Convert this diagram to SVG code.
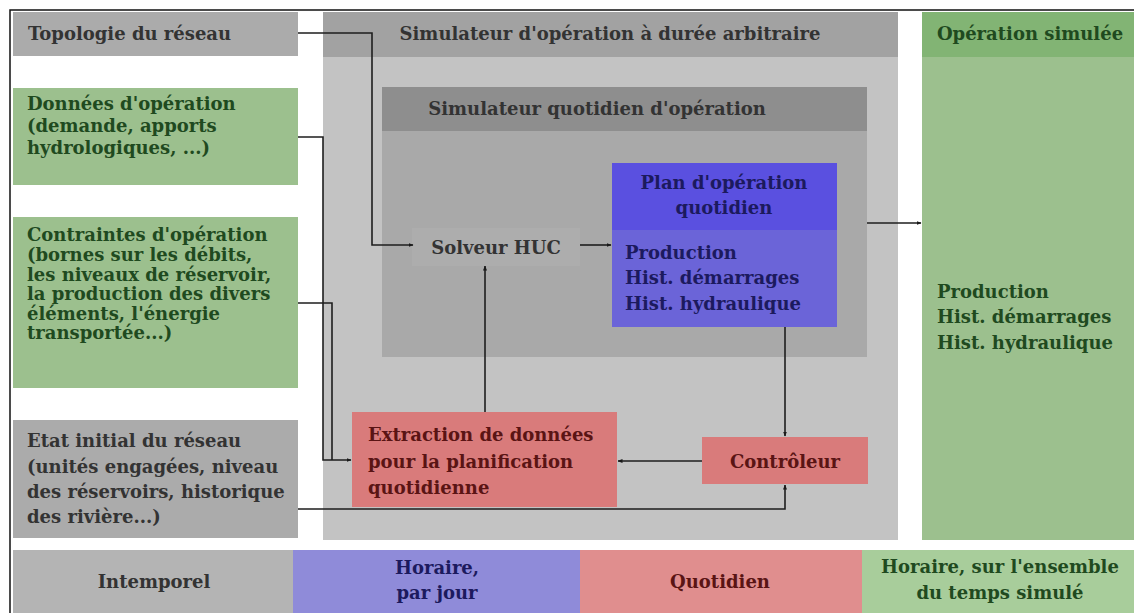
<svg xmlns="http://www.w3.org/2000/svg" width="1134" height="613" viewBox="0 0 1134 613">
<defs>
<marker id="ah" viewBox="0 0 10 10" refX="9" refY="5" markerWidth="5" markerHeight="5" orient="auto-start-reverse" markerUnits="userSpaceOnUse">
<path d="M0,1 L10,5 L0,9 z" fill="#1a1a1a"/>
</marker>
<style>
text{font-family:"DejaVu Serif","Liberation Serif",serif;font-weight:bold;font-size:18px}
.g{fill:#333}
.gr{fill:#1f4a1f}
.b{fill:#1c1a5e}
.r{fill:#5a1414}
.mid{text-anchor:middle}
.ln{fill:none;stroke:#1e1e1e;stroke-width:1.6}
</style>
</defs>
<rect x="0" y="0" width="1134" height="613" fill="#ffffff"/>
<g id="frame"><path d="M10,613 V10 H1134" fill="none" stroke="#111" stroke-width="1.5"/></g>

<g id="sim-arbitraire">
<rect x="323" y="12" width="575" height="528" fill="#c3c3c3"/>
<rect x="323" y="12" width="575" height="45" fill="#a2a2a2"/>
<text class="g mid" x="610" y="40">Simulateur d'opération à durée arbitraire</text>
</g>
<g id="sim-quotidien">
<rect x="382" y="87" width="485" height="270" fill="#a9a9a9"/>
<rect x="382" y="87" width="485" height="44" fill="#8e8e8e"/>
<text class="g mid" x="597" y="115">Simulateur quotidien d'opération</text>
</g>
<g id="solveur">
<rect x="412" y="228" width="168" height="38" fill="#adadad"/>
<text class="g mid" x="496" y="254">Solveur HUC</text>
</g>
<g id="plan">
<rect x="612" y="163" width="225" height="164" fill="#6b64d8"/>
<rect x="612" y="163" width="225" height="67" fill="#5a50e0"/>
<text class="b mid" x="724" y="189">Plan d'opération</text>
<text class="b mid" x="724" y="214">quotidien</text>
<text class="b" x="625" y="259">Production</text>
<text class="b" x="625" y="284">Hist. démarrages</text>
<text class="b" x="625" y="310">Hist. hydraulique</text>
</g>
<g id="extraction">
<rect x="352" y="412" width="265" height="95" fill="#d97b7b"/>
<text class="r" x="368" y="441">Extraction de données</text>
<text class="r" x="368" y="468">pour la planification</text>
<text class="r" x="368" y="494">quotidienne</text>
</g>
<g id="controleur">
<rect x="702" y="437" width="166" height="47" fill="#d97b7b"/>
<text class="r mid" x="785" y="468">Contrôleur</text>
</g>
<g id="operation-simulee">
<rect x="922" y="12" width="212" height="528" fill="#9cc08e"/>
<rect x="922" y="12" width="212" height="45" fill="#82b474"/>
<text class="gr mid" x="1030" y="40">Opération simulée</text>
<text class="gr" x="937" y="298">Production</text>
<text class="gr" x="937" y="323">Hist. démarrages</text>
<text class="gr" x="937" y="349">Hist. hydraulique</text>
</g>

<g id="topologie">
<rect x="13" y="12" width="285" height="44" fill="#ababab"/>
<text class="g" x="28" y="40">Topologie du réseau</text>
</g>
<g id="donnees">
<rect x="13" y="88" width="285" height="97" fill="#9cc08e"/>
<text class="gr" x="27" y="110">Données d'opération</text>
<text class="gr" x="27" y="132">(demande, apports</text>
<text class="gr" x="27" y="154">hydrologiques, ...)</text>
</g>
<g id="contraintes">
<rect x="13" y="217" width="285" height="171" fill="#9cc08e"/>
<text class="gr" x="27" y="241">Contraintes d'opération</text>
<text class="gr" x="27" y="261">(bornes sur les débits,</text>
<text class="gr" x="27" y="281">les niveaux de réservoir,</text>
<text class="gr" x="27" y="300">la production des divers</text>
<text class="gr" x="27" y="320">éléments, l'énergie</text>
<text class="gr" x="27" y="339">transportée...)</text>
</g>
<g id="etat">
<rect x="13" y="420" width="285" height="118" fill="#ababab"/>
<text class="g" x="27" y="447">Etat initial du réseau</text>
<text class="g" x="27" y="473">(unités engagées, niveau</text>
<text class="g" x="27" y="498">des réservoirs, historique</text>
<text class="g" x="27" y="523">des rivière...)</text>
</g>

<g id="legend">
<rect x="13" y="550" width="280" height="63" fill="#b4b4b4"/>
<rect x="293" y="550" width="287" height="63" fill="#8f8bd9"/>
<rect x="580" y="550" width="282" height="63" fill="#e08e8e"/>
<rect x="862" y="550" width="272" height="63" fill="#a8cd9b"/>
<text class="g mid" x="154" y="588">Intemporel</text>
<text class="b mid" x="437" y="574">Horaire,</text>
<text class="b mid" x="437" y="599">par jour</text>
<text class="r mid" x="720" y="588">Quotidien</text>
<text class="gr mid" x="1000" y="573">Horaire, sur l'ensemble</text>
<text class="gr mid" x="1000" y="599">du temps simulé</text>
</g>

<g id="connectors">
<path class="ln" d="M298,33 H372 V245 H413" marker-end="url(#ah)"/>
<path class="ln" d="M298,137 H323 V460 H351" marker-end="url(#ah)"/>
<path class="ln" d="M298,303 H332 V460"/>
<path class="ln" d="M298,509 H785 V485" marker-end="url(#ah)"/>
<path class="ln" d="M580,245 H611" marker-end="url(#ah)"/>
<path class="ln" d="M485,412 V266" marker-end="url(#ah)"/>
<path class="ln" d="M785,327 V436" marker-end="url(#ah)"/>
<path class="ln" d="M702,461 H618" marker-end="url(#ah)"/>
<path class="ln" d="M867,223 H921" marker-end="url(#ah)"/>
</g>
</svg>
